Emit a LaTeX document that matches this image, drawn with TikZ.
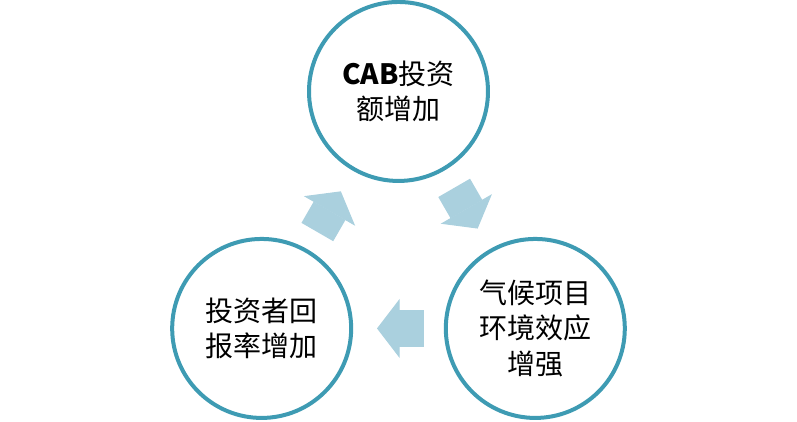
\documentclass[tikz,border=0pt]{standalone}
\usepackage{fontspec}
\usepackage{tikz}
\usetikzlibrary{arrows.meta,positioning,calc}
\newfontfamily\cjk{Noto Sans CJK SC}
\definecolor{CycleTeal}{HTML}{3E9BB3}
\definecolor{ArrowBlue}{HTML}{AAD0DE}

\begin{document}
\begin{tikzpicture}[
  stage/.style={circle,draw=CycleTeal,line width=3pt,minimum size=134.25pt,
                inner sep=0pt,align=center,
                font=\cjk\fontsize{21pt}{26.5pt}\selectfont},
  cyclearrow/.style={draw=ArrowBlue,line width=27.5pt,
                     -{Triangle[length=17pt,width=44.25pt,line width=0.8pt]},
                     shorten <=83.5pt,shorten >=86.5pt}
]
\useasboundingbox (-298.9pt,-129.4pt) rectangle (298.9pt,187.1pt);

\node[stage] (invest)  at (90:118.5pt)  {{\bfseries CAB}投资\\额增加};
\node[stage] (climate) at (-30:118.5pt) {气候项目\\环境效应\\增强};
\node[stage] (returns) at (210:118.5pt) {投资者回\\报率增加};

\draw[cyclearrow] (invest.center)  -- (climate.center);
\draw[cyclearrow] (climate.center) -- (returns.center);
\draw[cyclearrow] (returns.center) -- (invest.center);
\end{tikzpicture}
\end{document}
